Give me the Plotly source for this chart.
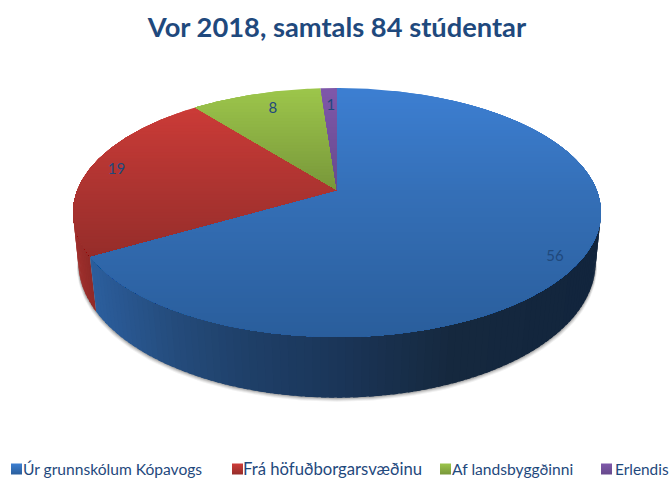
import numpy as np
import plotly.graph_objects as go

# ---- data ----
categories = ["Úr grunnskólum Kópavogs", "Frá höfuðborgarsvæðinu", "Af landsbyggðinni", "Erlendis"]
values = [56, 19, 8, 1]
title_text = "Vor 2018, samtals 84 stúdentar"

# ---- style ----
W, H = 671, 478
FONT = "Lato"
TEXT = "#1f497d"
key_top = ["#3d7fd2", "#ce3c38", "#9cc54b", "#7f58aa"]
key_bottom = ["#2a5e9c", "#952d2a", "#78973a", "#674a8c"]
top_stops = [
    [(88, "#3d7fd2"), (190, "#3570b8"), (337, "#2a5e9c")],
    [(100, "#ce3c38"), (190, "#ac3431"), (258, "#952d2a")],
    [(90, "#9cc54b"), (190, "#78973a")],
    [(88, "#7f58aa"), (190, "#674a8c")],
]
rim_stops = [
    [(96, "#2c5f9e"), (180, "#254c7c"), (250, "#1f4069"), (340, "#1b3659"), (450, "#16293f"), (600, "#12253d")],
    [(74, "#a0302d"), (96, "#8a2826")],
]
label_r = [0.915, 0.89, 0.816, 0.80]
label_shift = [3.5, 0.0, 1.3, 0.24]
key_x = [16.5, 237.5, 445.5, 606.5]
key_y = 469
legend_x = [-17, 203, 412, 575]
legend_size = [15.6, 16.7, 15.6, 15.4]

# ---- projection of the tilted disc ----
CX = 337
TOP = dict(a=259.6, b=120.4, k=0.1807, y=190)
BOT = dict(a=255.0, b=131.5, k=0.166, y=240)


def proj(theta_deg, r=1.0, p=TOP):
    t = np.radians(theta_deg)
    X, Y = r * np.sin(t), r * np.cos(t)
    w = 1 + p["k"] * Y
    return CX + p["a"] * X / w, p["y"] - p["b"] * Y / w


def hex2rgb(c):
    return np.array([int(c[i:i + 2], 16) for i in (1, 3, 5)], float)


def ramp(stops, v):
    xs = [s[0] for s in stops]
    rgb = np.array([hex2rgb(s[1]) for s in stops])
    return "rgb(%d,%d,%d)" % tuple(np.interp(v, xs, rgb[:, i]) for i in range(3))


def clip_below(px, py, y0):
    ox, oy = [], []
    n = len(px)
    for i in range(n):
        x1, y1, x2, y2 = px[i], py[i], px[(i + 1) % n], py[(i + 1) % n]
        if y1 >= y0:
            ox.append(x1); oy.append(y1)
        if (y1 >= y0) != (y2 >= y0):
            f = (y0 - y1) / (y2 - y1)
            ox.append(x1 + f * (x2 - x1)); oy.append(y0)
    return ox, oy


fig = go.Figure()


def poly(x, y, color):
    fig.add_trace(go.Scatter(x=list(x) + [x[0]], y=list(y) + [y[0]], mode="lines", fill="toself",
                             fillcolor=color, line=dict(width=0, color=color),
                             hoverinfo="skip", showlegend=False))


# slice angles, clockwise from twelve o'clock
edges = np.concatenate([[0], np.cumsum(values) / np.sum(values) * 360])

# soft shadow under the base
ang = np.linspace(60, 300, 181)
bx, by = proj(ang, p=BOT)
for off, alpha in [(4, .07), (3, .10), (2, .14), (1, .20)]:
    scale = 1 + off * 0.0015
    poly(CX + (bx - CX) * scale, by + off, "rgba(60,60,60,%.2f)" % alpha)

# side wall: red part then blue part, painted left to right
for th in np.arange(300, edges[1], -1.5):
    a = np.linspace(th, max(th - 2.5, edges[1]), 4)
    xt, yt = proj(a)
    xb, yb = proj(a[::-1], p=BOT)
    poly(np.r_[xt, xb], np.r_[yt, yb], ramp(rim_stops[1], xt.mean()))
for th in np.arange(edges[1], 60, -1.5):
    a = np.linspace(th, max(th - 2.5, 60), 4)
    xt, yt = proj(a)
    xb, yb = proj(a[::-1], p=BOT)
    poly(np.r_[xt, xb], np.r_[yt, yb], ramp(rim_stops[0], xb.mean()))

# top face, a vertical gradient painted in bands
for i in range(len(values)):
    a = np.linspace(edges[i], edges[i + 1], max(8, int((edges[i + 1] - edges[i]) * 1.5)))
    ax, ay = proj(a)
    px = np.r_[CX, ax]
    py = np.r_[TOP["y"], ay]
    for yb in np.arange(py.min(), py.max(), 3.0):
        ox, oy = clip_below(px, py, yb)
        if len(ox) > 2:
            poly(ox, oy, ramp(top_stops[i], yb))

# data labels
for i, v in enumerate(values):
    mid = (edges[i] + edges[i + 1]) / 2 + label_shift[i]
    lx, ly = proj(mid, label_r[i])
    fig.add_trace(go.Scatter(x=[lx], y=[ly], mode="text", text=[str(v)], hoverinfo="skip", showlegend=False,
                             textfont=dict(family=FONT, size=15, color=TEXT)))

# legend: one small legend for each category, keys drawn next to the text
layout_legends = {}
for i, name in enumerate(categories):
    key = "legend" if i == 0 else f"legend{i + 1}"
    fig.add_trace(go.Scatter(x=[key_x[i]], y=[key_y], mode="markers", hoverinfo="skip", showlegend=False,
                             marker=dict(symbol="square", size=11, color=key_top[i],
                                         gradient=dict(type="vertical", color=key_bottom[i]))))
    fig.add_trace(go.Scatter(x=[None], y=[None], mode="markers", name=name, legend=key,
                             marker=dict(symbol="square", size=11, color="rgba(0,0,0,0)")))
    layout_legends[key] = dict(x=legend_x[i] / W, y=1 - key_y / H, xanchor="left", yanchor="middle",
                               bgcolor="rgba(0,0,0,0)", itemwidth=30, borderwidth=0,
                               font=dict(family=FONT, size=legend_size[i], color=TEXT))

fig.update_layout(
    width=W, height=H, margin=dict(l=0, r=0, t=0, b=0, autoexpand=False),
    paper_bgcolor="white", plot_bgcolor="white",
    title=dict(text=f"<b>{title_text}</b>", x=337 / W, xanchor="center", y=1 - 27 / H, yanchor="middle",
               font=dict(family=FONT, size=27.3, color=TEXT)),
    xaxis=dict(range=[0, W], visible=False, fixedrange=True),
    yaxis=dict(range=[H, 0], visible=False, fixedrange=True),
    **layout_legends,
)
fig.write_html("out.html", config=dict(displayModeBar=False),
               post_script="document.body.style.margin='0';document.body.style.overflow='hidden';")
